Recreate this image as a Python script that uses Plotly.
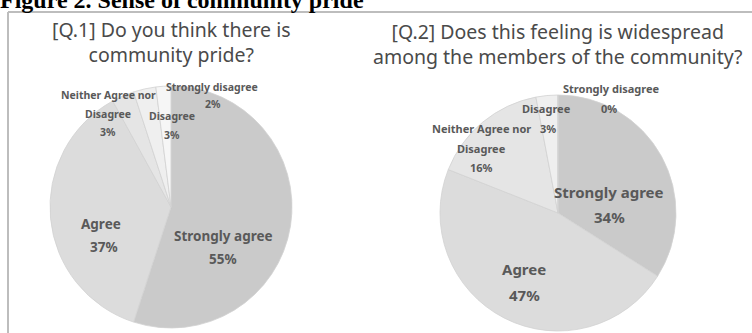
import plotly.graph_objects as go

categories = ["Strongly agree", "Agree", "Neither Agree nor|Disagree", "Disagree", "Strongly disagree"]
q1_values = [55, 37, 3, 3, 2]
q2_values = [34, 47, 16, 3, 0]
slice_colors = ["#cacaca", "#dcdcdc", "#e5e5e5", "#efefef", "#f6f6f6"]

caption = "Figure 2. Sense of community pride"
q1_title = ["[Q.1] Do you think there is", "community pride?"]
q2_title = ["[Q.2] Does this feeling is widespread", "among the members of the community?"]

W, H = 752, 333

# label line positions in pixels (x, y from top), per category: one entry per text line
q1_label_pos = [
    [(223, 236), (223, 259)],
    [(101, 224), (104, 247)],
    [(108, 95), (108, 114), (108, 132)],
    [(172, 116), (172, 135)],
    [(212, 87), (213, 104)],
]
q1_label_size = [13.5, 13.5, 10.5, 10.5, 10.5]
q2_label_pos = [
    [(609, 192), (609, 217)],
    [(524, 269), (524, 295)],
    [(481, 128), (481, 148), (481, 168)],
    [(546, 108), (548, 128)],
    [(611, 88), (609, 108)],
]
q2_label_size = [15, 15, 11, 11, 11]

fig = go.Figure()
common = dict(
    labels=[c.replace("|", " ") for c in categories],
    sort=False,
    direction="clockwise",
    rotation=0,
    textinfo="none",
    hoverinfo="label+percent",
    showlegend=False,
    marker=dict(colors=slice_colors, line=dict(color="#d2d2d2", width=0.8)),
)
fig.add_trace(go.Pie(values=q1_values,
                     domain=dict(x=[50 / W, 292 / W], y=[5 / H, 247 / H]), **common))
fig.add_trace(go.Pie(values=q2_values,
                     domain=dict(x=[440 / W, 676 / W], y=[2 / H, 238 / H]), **common))

annotations = []
label_font = dict(family="Noto Sans, Open Sans, sans-serif", color="#595959")
for vals, pos, sizes in [(q1_values, q1_label_pos, q1_label_size),
                         (q2_values, q2_label_pos, q2_label_size)]:
    for cat, v, lines_pos, s in zip(categories, vals, pos, sizes):
        lines = cat.split("|") + [f"{v}%"]
        for txt, (px, py) in zip(lines, lines_pos):
            annotations.append(dict(
                x=px / W, y=1 - py / H, xref="paper", yref="paper",
                text=f"<b>{txt}</b>", showarrow=False,
                xanchor="center", yanchor="middle",
                font=dict(size=s, **label_font),
            ))

title_font = dict(family="Noto Sans, Open Sans, sans-serif", size=19.5, color="#4a4a4a")
for lines, cx, cy in [(q1_title, 171, 42.5), (q2_title, 558, 43.5)]:
    annotations.append(dict(x=cx / W, y=1 - cy / H, xref="paper", yref="paper",
                            text="<br>".join(lines),
                            showarrow=False, xanchor="center", yanchor="middle",
                            align="center", font=title_font))
annotations.append(dict(x=-2 / W, y=1.0, xref="paper", yref="paper", text=f"<b>{caption}</b>",
                        showarrow=False, xanchor="left", yanchor="middle",
                        font=dict(family="Liberation Serif, Times New Roman, serif", size=24, color="#000000")))

shapes = [
    dict(type="line", xref="paper", yref="paper", x0=8 / W, x1=1, y0=1 - 12 / H, y1=1 - 12 / H,
         line=dict(color="#bdbdbd", width=2)),
    dict(type="line", xref="paper", yref="paper", x0=8 / W, x1=8 / W, y0=0, y1=1 - 12 / H,
         line=dict(color="#bdbdbd", width=2)),
]

fig.update_layout(
    width=W, height=H,
    margin=dict(l=0, r=0, t=0, b=0),
    paper_bgcolor="white", plot_bgcolor="white",
    annotations=annotations, shapes=shapes,
)
fig.write_html("out.html")
